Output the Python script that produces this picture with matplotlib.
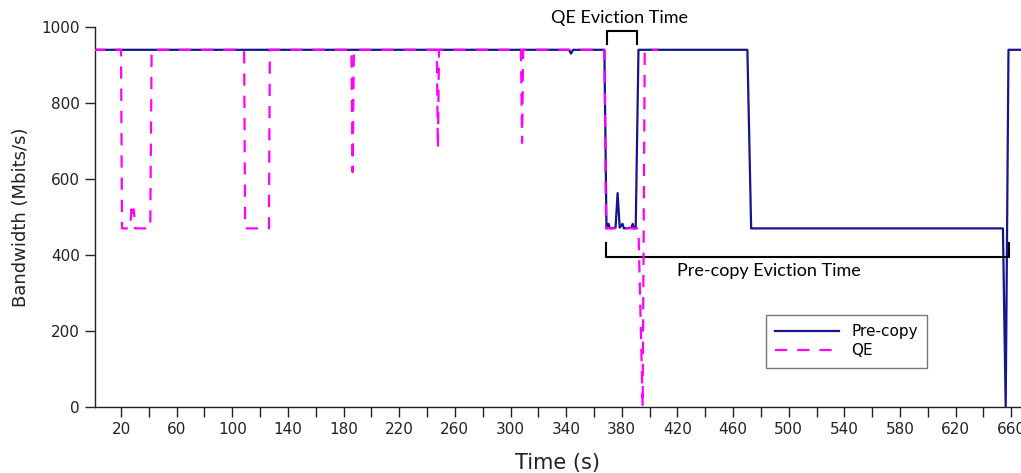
import matplotlib
matplotlib.use("Agg")
import matplotlib.pyplot as plt

# ---- data ----
precopy_t = [0, 342, 343.5, 345, 367.5, 369, 370.5, 371.5, 375.5, 377, 378.5, 380.5, 381.5, 387, 387.8, 388.8,
             390, 392, 470.3, 473, 654, 656, 658, 667]
precopy_bw = [940, 940, 930, 940, 940, 470, 482, 470, 472, 563, 472, 482, 470, 472, 482, 470,
              470, 940, 940, 470, 470, 0, 940, 940]

qe_t = [0, 20, 20.7, 26.5, 27.5, 28.3, 29.2, 30.2, 41, 42,
        108.5, 109.2, 126.3, 127,
        185.6, 186.5, 187.4,
        247, 247.8, 248.6,
        307.5, 308.3, 309.1,
        367.5, 368.7, 392, 395, 396.5, 406]
qe_bw = [940, 940, 470, 470, 520, 500, 520, 470, 470, 940,
         940, 470, 470, 940,
         940, 618, 940,
         940, 681, 940,
         940, 695, 940,
         940, 470, 470, 0, 940, 940]

x_major = list(range(20, 661, 40))
x_minor = list(range(40, 641, 40))
y_ticks = [0, 200, 400, 600, 800, 1000]

navy = "#15158c"
magenta = "#ff00ff"

fig = plt.figure(figsize=(10.21, 4.73), dpi=100)
ax = fig.add_axes([94.6 / 1021, 66 / 473, (1021 - 94.6) / 1021, 380 / 473])

ax.plot(precopy_t, precopy_bw, color=navy, lw=1.6, label="Pre-copy", zorder=2)
ax.plot(qe_t, qe_bw, color=magenta, lw=1.6, ls=(0, (5.5, 4.5)), label="QE", zorder=3)

ax.set_xlim(1, 667)
ax.set_ylim(0, 1000)
ax.set_xticks(x_major)
ax.set_xticks(x_minor, minor=True)
ax.set_yticks(y_ticks)
ax.tick_params(axis="both", which="both", direction="out", length=7, width=1, labelsize=11, colors="#222222")
ax.tick_params(axis="x", which="minor", length=7)
for s in ["top", "right"]:
    ax.spines[s].set_visible(False)
for s in ["left", "bottom"]:
    ax.spines[s].set_linewidth(1.0)
    ax.spines[s].set_color("#222222")

ax.set_xlabel("Time (s)", fontsize=15, color="#222222", labelpad=12)
ax.set_ylabel("Bandwidth (Mbits/s)", fontsize=13, color="#222222", labelpad=8)

leg = ax.legend(loc="upper left", bbox_to_anchor=(0.716, 0.263), fontsize=11, frameon=True,
                fancybox=False, edgecolor="#555555", handlelength=4.2, borderpad=0.6,
                labelspacing=0.3)
leg.get_frame().set_linewidth(1.0)

# Annotation brackets
ann_font = dict(family=["Lato", "DejaVu Sans"], fontsize=13, color="black")
ax.plot([369.6, 369.6, 391.2, 391.2], [955, 989, 989, 955], color="black", lw=1.5, clip_on=False)
ax.text(378, 1024, "QE Eviction Time", ha="center", va="center", **ann_font)

ax.plot([368.9, 368.9, 658.7, 658.7], [432, 395, 395, 432], color="black", lw=1.5, clip_on=False)
ax.text(486, 358, "Pre-copy Eviction Time", ha="center", va="center", **ann_font)

fig.savefig("out.png", dpi=100)
